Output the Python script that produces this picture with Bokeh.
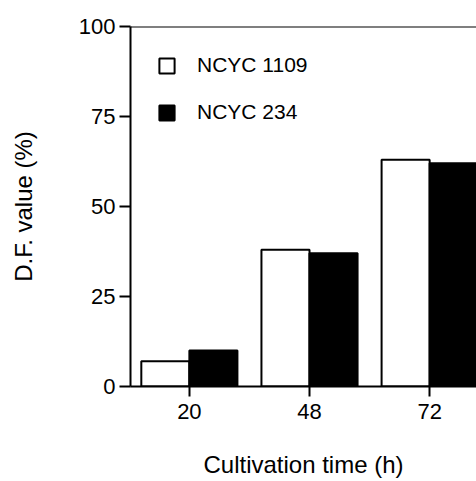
from bokeh.plotting import figure
from bokeh.models import Range1d, FixedTicker, Span, ColumnDataSource
from bokeh.embed import file_html
from bokeh.resources import INLINE
import numpy as np

# Data
times = ["20", "48", "72"]
ncyc_1109 = [7, 38, 63]
ncyc_234 = [10, 37, 62]
y_ticks = [0, 25, 50, 75, 100]

idx = np.arange(len(times))
src = ColumnDataSource(dict(
    xw=idx - 0.2, xb=idx + 0.2, w=ncyc_1109, b=ncyc_234))

FONT = "Liberation Sans"

p = figure(width=476, height=481, output_backend="svg", toolbar_location=None,
           x_range=Range1d(-0.49, 2.39), y_range=Range1d(0, 100),
           min_border_left=130, min_border_right=0, min_border_top=26,
           min_border_bottom=95)
p.outline_line_color = None
p.xgrid.visible = False
p.ygrid.visible = False
p.background_fill_color = "white"
p.border_fill_color = "white"

p.vbar(x="xw", top="w", width=0.4, source=src, fill_color="white",
       line_color="black", line_width=2, legend_label="NCYC 1109")
p.vbar(x="xb", top="b", width=0.4, source=src, fill_color="black",
       line_color="black", line_width=2, legend_label="NCYC 234")

p.add_layout(Span(location=100, dimension="width", line_color="black", line_width=2))

# y axis
ya = p.yaxis[0]
ya.ticker = FixedTicker(ticks=y_ticks)
ya.major_tick_out = 11
ya.major_tick_in = 0
ya.minor_tick_line_color = None
ya.axis_line_width = 2
ya.major_tick_line_width = 2
ya.major_label_text_font = FONT
ya.major_label_text_font_size = "22px"
ya.major_label_text_color = "black"
ya.major_label_standoff = 4
ya.axis_label = "D.F. value (%)"
ya.axis_label_text_font = FONT
ya.axis_label_text_font_size = "24px"
ya.axis_label_text_font_style = "normal"
ya.axis_label_text_color = "black"
ya.axis_label_standoff = 39

# x axis
xa = p.xaxis[0]
xa.ticker = FixedTicker(ticks=list(idx))
xa.major_label_overrides = {int(i): t for i, t in zip(idx, times)}
xa.major_tick_out = 10
xa.major_tick_in = 0
xa.minor_tick_line_color = None
xa.axis_line_width = 2
xa.major_tick_line_width = 2
xa.major_label_text_font = FONT
xa.major_label_text_font_size = "22px"
xa.major_label_text_color = "black"
xa.major_label_standoff = 7
xa.axis_label = "Cultivation time (h)"
xa.axis_label_text_font = FONT
xa.axis_label_text_font_size = "24px"
xa.axis_label_text_font_style = "normal"
xa.axis_label_text_color = "black"
xa.axis_label_standoff = 29

leg = p.legend[0]
leg.location = "top_left"
leg.margin = 27
leg.padding = 0
leg.border_line_color = None
leg.background_fill_alpha = 0
leg.glyph_width = 19
leg.glyph_height = 19
leg.label_height = 20
leg.label_standoff = 21
leg.spacing = 23
leg.label_text_font = FONT
leg.label_text_font_size = "21px"
leg.label_text_color = "black"

open("out.html", "w").write(file_html(p, INLINE))
